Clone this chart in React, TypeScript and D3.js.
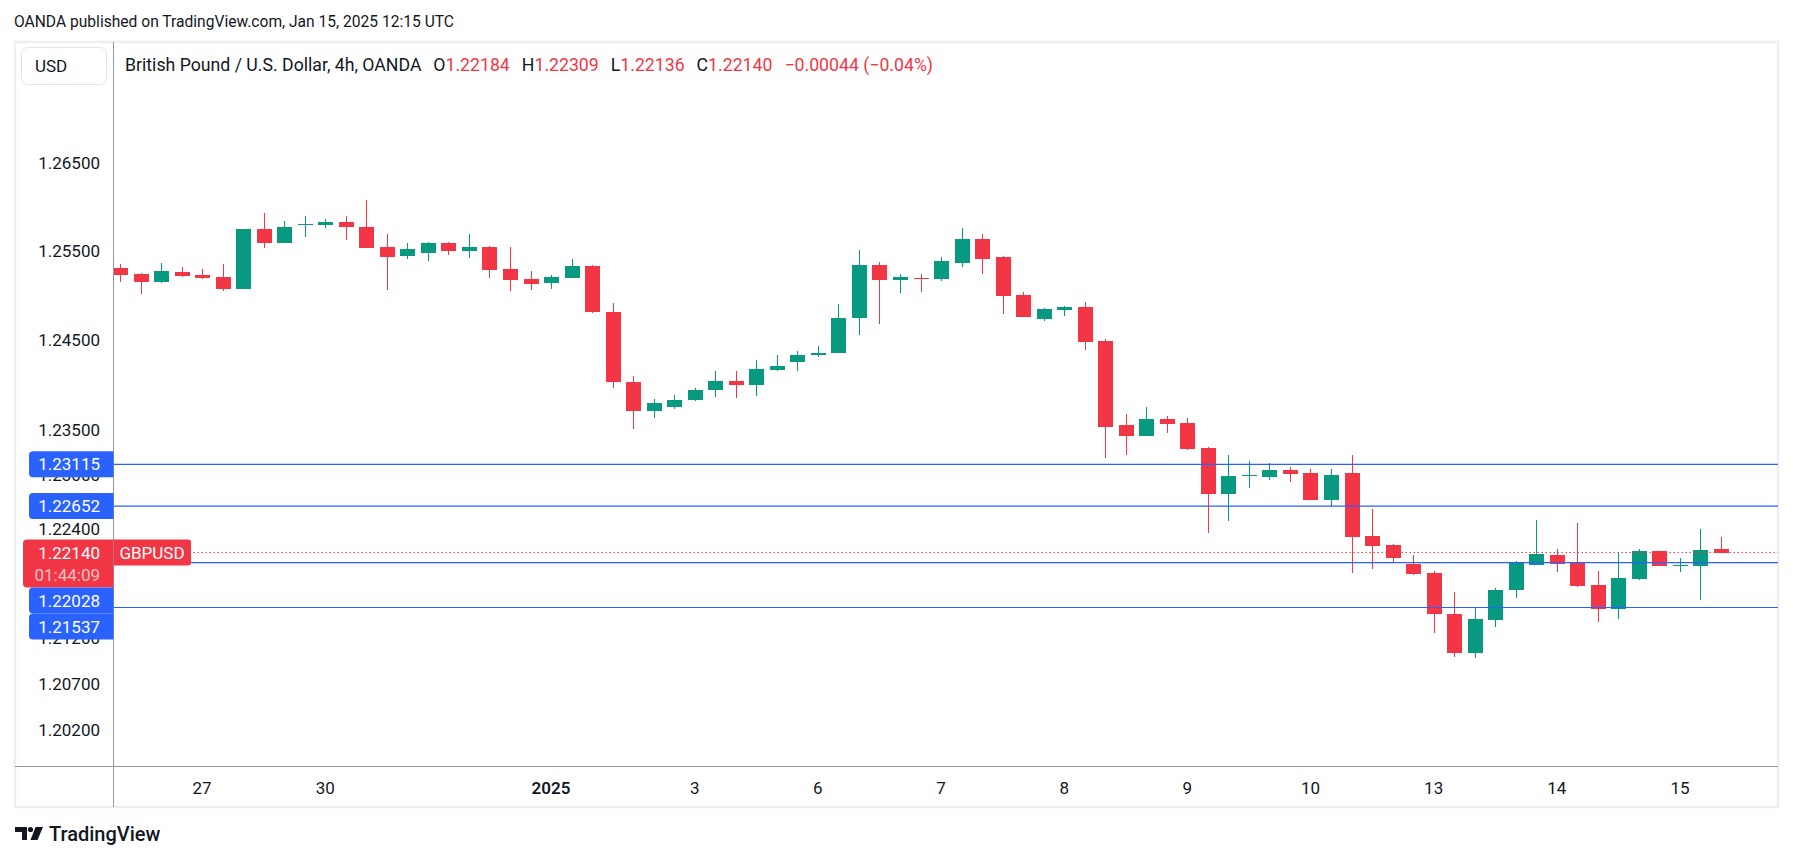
import React from 'react';
import * as d3 from 'd3';

const W = 1793;
const H = 861;

// GBPUSD 4h candles, Dec 26 2024 -> Jan 15 2025
const opens = [
  1.25306, 1.25238, 1.25151, 1.25261, 1.25227, 1.25205, 1.25073, 1.2575, 1.25594, 1.25798,
  1.25798, 1.25829, 1.25772, 1.25544, 1.25446, 1.25479, 1.25589, 1.25502, 1.25544, 1.25295,
  1.25182, 1.2514, 1.25197, 1.25329, 1.24821, 1.24035, 1.23702, 1.23747, 1.23825, 1.23937,
  1.24046, 1.23993, 1.24161, 1.24251, 1.24329, 1.24352, 1.24745, 1.2534, 1.25174, 1.25197,
  1.25186, 1.25363, 1.25637, 1.25431, 1.25002, 1.24742, 1.24843, 1.24877, 1.24494, 1.23554,
  1.23431, 1.2362, 1.23576, 1.23297, 1.22786, 1.2299, 1.22975, 1.23052, 1.23019, 1.22719,
  1.23021, 1.22317, 1.22218, 1.22009, 1.2191, 1.2147, 1.21044, 1.21396, 1.21727, 1.22002,
  1.22108, 1.22027, 1.21778, 1.21518, 1.21848, 1.22152, 1.21987, 1.21991, 1.22184,
];
const highs = [
  1.25355, 1.2525, 1.25366, 1.25318, 1.25295, 1.25351, 1.25752, 1.2593, 1.2584, 1.25896,
  1.25862, 1.25896, 1.26079, 1.25692, 1.25589, 1.25601, 1.25601, 1.25692, 1.25555, 1.25544,
  1.25272, 1.25227, 1.25408, 1.2534, 1.24922, 1.24102, 1.23844, 1.23889, 1.23967, 1.24158,
  1.24158, 1.24281, 1.24337, 1.24382, 1.24438, 1.24911, 1.2551, 1.25374, 1.25238, 1.25238,
  1.25431, 1.25764, 1.25696, 1.25446, 1.25039, 1.24856, 1.24888, 1.24933, 1.24516, 1.23676,
  1.23755, 1.23654, 1.23632, 1.23308, 1.23219, 1.23152, 1.2313, 1.23085, 1.23063, 1.23063,
  1.23219, 1.22625, 1.22229, 1.22112, 1.21932, 1.21712, 1.21529, 1.21745, 1.22042, 1.22504,
  1.22174, 1.2246, 1.21932, 1.22134, 1.22174, 1.22155, 1.22075, 1.22403, 1.22309,
];
const lows = [
  1.25151, 1.25016, 1.25145, 1.25212, 1.25182, 1.2505, 1.2507, 1.25538, 1.2559, 1.25663,
  1.25764, 1.25629, 1.25535, 1.25061, 1.25412, 1.25389, 1.25457, 1.25423, 1.25197, 1.2505,
  1.25061, 1.25073, 1.25195, 1.24801, 1.2396, 1.23512, 1.23624, 1.23735, 1.23822, 1.23859,
  1.23848, 1.2387, 1.2415, 1.2415, 1.24307, 1.2435, 1.24554, 1.24677, 1.25027, 1.25039,
  1.25163, 1.25318, 1.25238, 1.24798, 1.24762, 1.24719, 1.24776, 1.24393, 1.23186, 1.23219,
  1.23428, 1.23464, 1.23275, 1.22354, 1.22487, 1.22853, 1.22942, 1.22919, 1.22716, 1.22642,
  1.21914, 1.21958, 1.22027, 1.21892, 1.21253, 1.21, 1.20989, 1.21319, 1.21639, 1.22,
  1.21925, 1.2176, 1.21374, 1.21407, 1.21837, 1.21988, 1.21925, 1.21617, 1.22136,
];
const closes = [
  1.2523, 1.25151, 1.25272, 1.25219, 1.25197, 1.25073, 1.2575, 1.25594, 1.25772, 1.25806,
  1.25829, 1.25776, 1.25538, 1.25434, 1.25521, 1.25589, 1.25502, 1.25544, 1.25287, 1.25174,
  1.25129, 1.25205, 1.25329, 1.24813, 1.24027, 1.23702, 1.23799, 1.23833, 1.23945, 1.24046,
  1.23993, 1.2418, 1.24214, 1.24337, 1.24359, 1.24753, 1.2534, 1.25174, 1.25205, 1.25186,
  1.25385, 1.25637, 1.25408, 1.2499, 1.24764, 1.24854, 1.24877, 1.24482, 1.23531, 1.23431,
  1.2362, 1.23565, 1.23286, 1.22786, 1.22986, 1.22995, 1.23052, 1.23008, 1.22719, 1.22997,
  1.2231, 1.22211, 1.22079, 1.21903, 1.21462, 1.21044, 1.21415, 1.21734, 1.22027, 1.22119,
  1.22013, 1.21771, 1.21518, 1.21855, 1.22152, 1.21991, 1.21998, 1.22173, 1.2214,
];

// time scale labels and the bar each day starts on
const dayLabels = ['27', '30', '2025', '3', '6', '7', '8', '9', '10', '13', '14', '15'];
const dayStartBar = [4, 10, 21, 28, 34, 40, 46, 52, 58, 64, 70, 76];

// price scale (log) labels shown by TradingView
const priceTicks = [1.265, 1.255, 1.245, 1.235, 1.23, 1.224, 1.212, 1.207, 1.202];

// horizontal lines drawn on the chart
const levelPrices = [1.23115, 1.22652, 1.22028, 1.21537];

const lastPrice = 1.2214;
const countdown = '01:44:09';
const legendKeys = ['O', 'H', 'L', 'C'];
const legendValues = ['1.22184', '1.22309', '1.22136', '1.22140'];
const changeText = '\u22120.00044 (\u22120.04%)';

const UP = '#089981';
const DOWN = '#f23645';
const BLUE = '#2962ff';
const TEXT = '#131722';
const AXIS = '#9598a1';
const FONT = 'Roboto, "Noto Sans", sans-serif';
const FS = 17;

const frame = { left: 14, top: 42, right: 1778, bottom: 807 };
const axisX = 113.5;
const plotBottom = 766.5;

// box with rounded left corners, right edge flush with the price axis
function leftTag(x0: number, x1: number, y0: number, y1: number, r: number) {
  return `M${x1},${y0} H${x0 + r} Q${x0},${y0} ${x0},${y0 + r} V${y1 - r} Q${x0},${y1} ${x0 + r},${y1} H${x1} Z`;
}
function rightTag(x0: number, x1: number, y0: number, y1: number, r: number) {
  return `M${x0},${y0} H${x1 - r} Q${x1},${y0} ${x1},${y0 + r} V${y1 - r} Q${x1},${y1} ${x1 - r},${y1} H${x0} Z`;
}

export default function App() {
  const x = d3.scaleLinear().domain([0, opens.length - 1]).range([120, 1721]);
  const y = d3.scaleLog().domain([1.27877, 1.19803]).range([43, 767]);
  const bodyW = 15;

  // price labels on the axis, pushed down so they do not overlap
  const lastY = y(lastPrice);
  const tags: { kind: string; top: number; h: number; text: string }[] = [];
  const wanted = [
    ...levelPrices.map(p => ({ kind: 'level', top: y(p) - 13, h: 26, text: p.toFixed(5) })),
    { kind: 'last', top: lastY - 13, h: 48, text: lastPrice.toFixed(5) },
  ].sort((a, b) => a.top - b.top);
  let prevBottom = -Infinity;
  wanted.forEach(t => {
    const top = Math.max(t.top, prevBottom);
    tags.push({ ...t, top });
    prevBottom = top + t.h;
  });

  return (
    <svg
      width={W}
      height={H}
      style={{ position: 'absolute', left: 0, top: 0, background: '#fff' }}
      fontFamily={FONT}
    >
      <text x={14} y={22} fontSize={15.6} fill={TEXT} dominantBaseline="central">
        OANDA published on TradingView.com, Jan 15, 2025 12:15 UTC
      </text>

      <rect
        x={frame.left + 1}
        y={frame.top}
        width={frame.right - frame.left - 1}
        height={frame.bottom - frame.top}
        fill="#fff"
        stroke="#eceef2"
        strokeWidth={2.5}
      />

      <defs>
        <clipPath id="plot">
          <rect x={axisX + 0.5} y={frame.top} width={frame.right - axisX - 0.5} height={plotBottom - frame.top} />
        </clipPath>
      </defs>

      <g clipPath="url(#plot)">
        {opens.map((o, i) => {
          const c = closes[i];
          const col = c >= o ? UP : DOWN;
          const cx = Math.round(x(i));
          const top = Math.round(y(Math.max(o, c)));
          const bot = Math.round(y(Math.min(o, c)));
          const hy = Math.round(y(highs[i]));
          const ly = Math.round(y(lows[i]));
          return (
            <g key={i}>
              <rect x={cx} y={hy} width={1} height={Math.max(1, ly - hy)} fill={col} />
              <rect x={cx - 7} y={top} width={bodyW} height={Math.max(1, bot - top)} fill={col} />
            </g>
          );
        })}
        {levelPrices.map(p => (
          <line key={p} x1={axisX} x2={frame.right} y1={y(p)} y2={y(p)} stroke={BLUE} strokeWidth={1.2} />
        ))}
        <line
          x1={axisX}
          x2={frame.right}
          y1={lastY}
          y2={lastY}
          stroke={DOWN}
          strokeWidth={1}
          strokeDasharray="1.5 2.5"
        />
      </g>

      {/* axes */}
      <line x1={axisX} x2={axisX} y1={frame.top} y2={frame.bottom} stroke={AXIS} strokeWidth={1} />
      <line x1={frame.left + 1} x2={frame.right} y1={plotBottom} y2={plotBottom} stroke={AXIS} strokeWidth={1} />

      {priceTicks.map(t => (
        <text key={t} x={100} y={y(t)} fontSize={FS} fill={TEXT} textAnchor="end" dominantBaseline="central">
          {t.toFixed(5)}
        </text>
      ))}

      {dayLabels.map((d, i) => (
        <text
          key={d}
          x={x(dayStartBar[i])}
          y={788}
          fontSize={FS}
          fontWeight={d === '2025' ? 600 : 400}
          fill={TEXT}
          textAnchor="middle"
          dominantBaseline="central"
        >
          {d}
        </text>
      ))}

      {tags.map(t =>
        t.kind === 'level' ? (
          <g key={t.text}>
            <path d={leftTag(29, axisX, t.top, t.top + t.h, 4)} fill={BLUE} />
            <text x={100} y={t.top + t.h / 2} fontSize={FS} fill="#fff" textAnchor="end" dominantBaseline="central">
              {t.text}
            </text>
          </g>
        ) : (
          <g key="last">
            <path d={leftTag(23, axisX, t.top, t.top + t.h, 4)} fill={DOWN} />
            <text x={100} y={t.top + 13} fontSize={FS} fill="#fff" textAnchor="end" dominantBaseline="central">
              {t.text}
            </text>
            <text
              x={100}
              y={t.top + 35}
              fontSize={FS}
              fill="#fff"
              fillOpacity={0.7}
              textAnchor="end"
              dominantBaseline="central"
            >
              {countdown}
            </text>
          </g>
        )
      )}

      <path d={rightTag(axisX + 0.5, 191, lastY - 13, lastY + 13, 3)} fill={DOWN} />
      <text x={152} y={lastY} fontSize={FS} fill="#fff" textAnchor="middle" dominantBaseline="central">
        GBPUSD
      </text>

      {/* currency button */}
      <rect x={21.5} y={47.5} width={85} height={37} rx={6} fill="#fff" stroke="#e0e3eb" />
      <text x={35} y={66} fontSize={FS} fill={TEXT} dominantBaseline="central">
        USD
      </text>

      {/* legend */}
      <text x={125} y={65} fontSize={17.7} fill={TEXT} dominantBaseline="central">
        <tspan>British Pound / U.S. Dollar, 4h, OANDA</tspan>
        {legendKeys.map((k, i) => (
          <React.Fragment key={k}>
            <tspan dx={12}>{k}</tspan>
            <tspan fill={DOWN}>{legendValues[i]}</tspan>
          </React.Fragment>
        ))}
        <tspan dx={12} fill={DOWN}>
          {changeText}
        </tspan>
      </text>

      {/* TradingView logo */}
      <g fill={TEXT}>
        <path d="M15,827 H27 V840 H22 V832 H15 Z" />
        <circle cx={30.5} cy={829.5} r={2.6} />
        <path d="M35.5,827 H43 L37.5,840 H30.5 Z" />
      </g>
      <text x={49} y={834} fontSize={20} fontWeight={500} fill={TEXT} dominantBaseline="central">
        TradingView
      </text>
    </svg>
  );
}
